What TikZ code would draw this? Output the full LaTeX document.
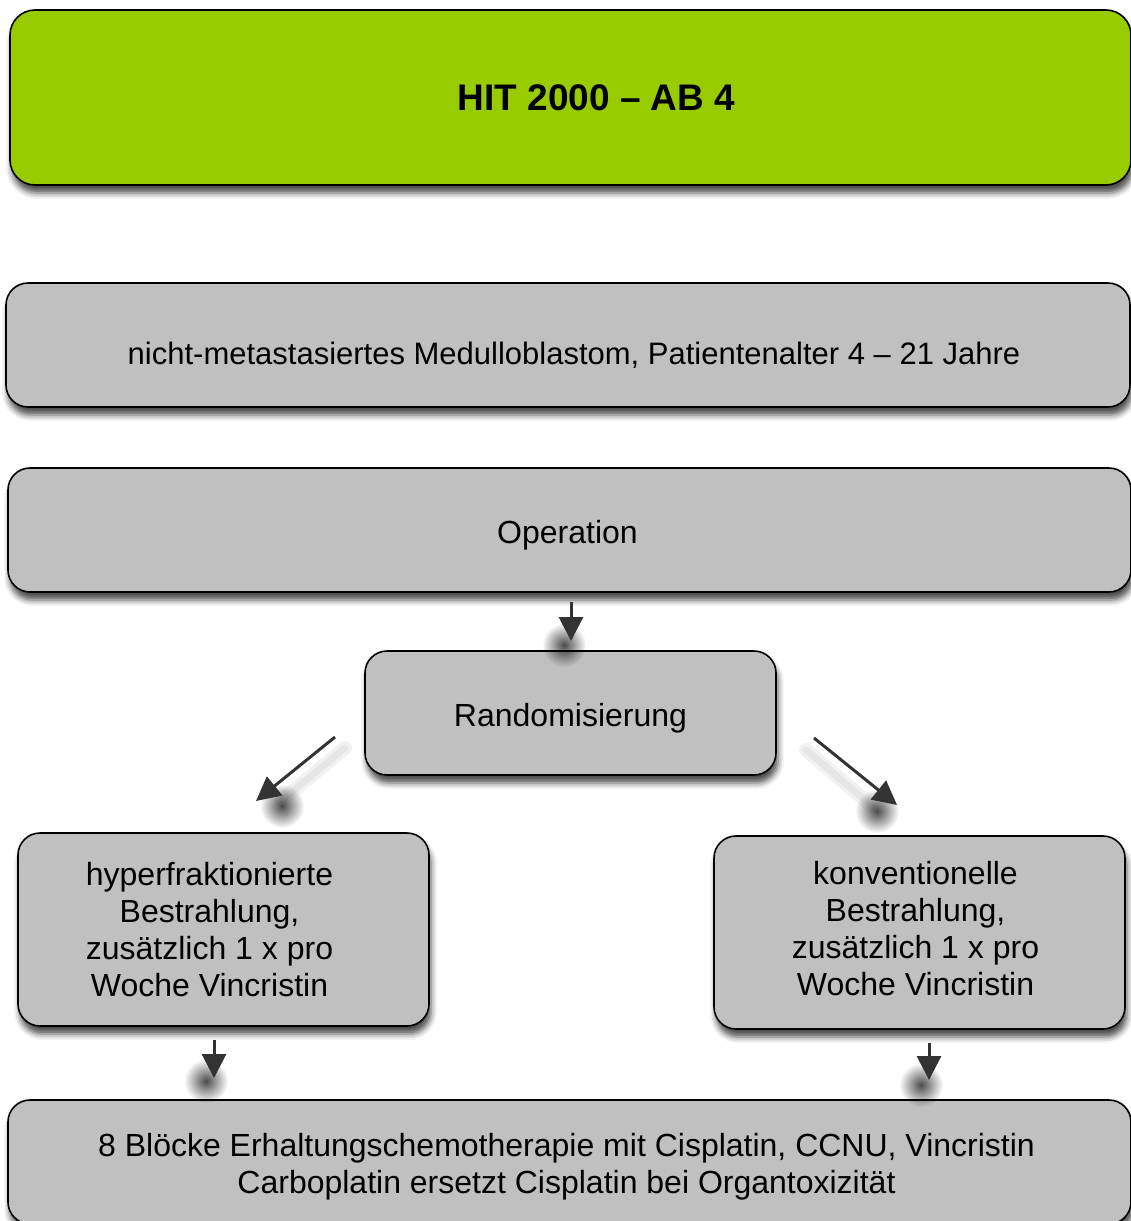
\documentclass[tikz,border=0pt]{standalone}
\usepackage{fontspec}
\setmainfont{Liberation Sans}
\usetikzlibrary{shadows.blur,arrows.meta,fadings}
\definecolor{boxgreen}{HTML}{99CC00}
\definecolor{boxgray}{HTML}{C0C0C0}
\definecolor{arrgray}{HTML}{333333}
\tikzfading[name=blobfade, inner color=transparent!0, outer color=transparent!100]
\begin{document}
\begin{tikzpicture}[x=1pt,y=-1pt,
  box/.style={draw=black, line width=1.6pt, fill=boxgray, rounded corners=22pt,
    inner sep=0pt,
    blur shadow={shadow xshift=2pt, shadow yshift=-8pt, shadow blur radius=6pt, shadow opacity=70}},
  txt/.style={align=center, inner sep=0pt, font=\fontsize{32}{37}\selectfont},
  arrowline/.style={draw=arrgray, line width=3pt, -{Triangle[length=24pt,width=24pt]}},
  tipshadow/.style={fill=black, opacity=0.7, path fading=blobfade},
  lineshadow/.style={draw=black, opacity=0.05, line cap=round}]
\useasboundingbox (0,0) rectangle (1131,1221);

\node[box, fill=boxgreen, rounded corners=25pt, minimum width=1121pt, minimum height=175pt,
  label={[txt, font=\fontsize{37}{42}\selectfont\bfseries, xshift=26pt]center:HIT 2000 – AB 4}] (title) at (570.5,97.5) {};

\node[box, minimum width=1124pt, minimum height=124pt,
  label={[txt, font=\fontsize{31}{36}\selectfont, xshift=6pt, yshift=-10pt]center:nicht-metastasiertes Medulloblastom, Patientenalter 4 – 21 Jahre}] (crit) at (568,345) {};

\node[box, minimum width=1123pt, minimum height=124pt,
  label={[txt, xshift=-2pt, yshift=-5pt]center:Operation}] (op) at (569.5,530) {};

\node[box, minimum width=411pt, minimum height=124pt,
  label={[txt, yshift=-5pt]center:Randomisierung}] (rand) at (570.5,713) {};

\node[box, minimum width=411pt, minimum height=193pt,
  label={[txt, xshift=-14pt]center:hyperfraktionierte\\Bestrahlung,\\zusätzlich 1 x pro\\Woche Vincristin}] (hyper) at (223.5,929.5) {};

\node[box, minimum width=411pt, minimum height=193pt,
  label={[txt, xshift=-4pt, yshift=4pt]center:konventionelle\\Bestrahlung,\\zusätzlich 1 x pro\\Woche Vincristin}] (conv) at (919.5,932.5) {};

\node[box, minimum width=1123pt, minimum height=124pt,
  label={[txt, xshift=-3pt, yshift=-5pt]center:8 Blöcke Erhaltungschemotherapie mit Cisplatin, CCNU, Vincristin\\Carboplatin ersetzt Cisplatin bei Organtoxizität}] (maint) at (569.5,1162) {};

% arrow end points
\coordinate (a1s) at (571,602);  \coordinate (a1e) at (571,641);
\coordinate (a2s) at (335,737);  \coordinate (a2e) at (256,801);
\coordinate (a3s) at (814,738);  \coordinate (a3e) at (897,805);
\coordinate (a4s) at (214,1040); \coordinate (a4e) at (214,1078);
\coordinate (a5s) at (929,1043); \coordinate (a5e) at (929,1080);

% shadows of the arrows
\draw[lineshadow, line width=14pt] (345,748) -- (282,800);
\draw[lineshadow, line width=7pt] (345,748) -- (282,800);
\draw[lineshadow, line width=14pt] (806,750) -- (872,806);
\draw[lineshadow, line width=7pt] (806,750) -- (872,806);
\fill[tipshadow] (564,645) circle (22pt);
\fill[tipshadow] (282,806) circle (22pt);
\fill[tipshadow] (877,811) circle (22pt);
\fill[tipshadow] (206,1081) circle (22pt);
\fill[tipshadow] (921,1085) circle (22pt);

% arrows
\draw[arrowline] (a1s) -- (a1e);
\draw[arrowline] (a2s) -- (a2e);
\draw[arrowline] (a3s) -- (a3e);
\draw[arrowline] (a4s) -- (a4e);
\draw[arrowline] (a5s) -- (a5e);
\end{tikzpicture}
\end{document}
